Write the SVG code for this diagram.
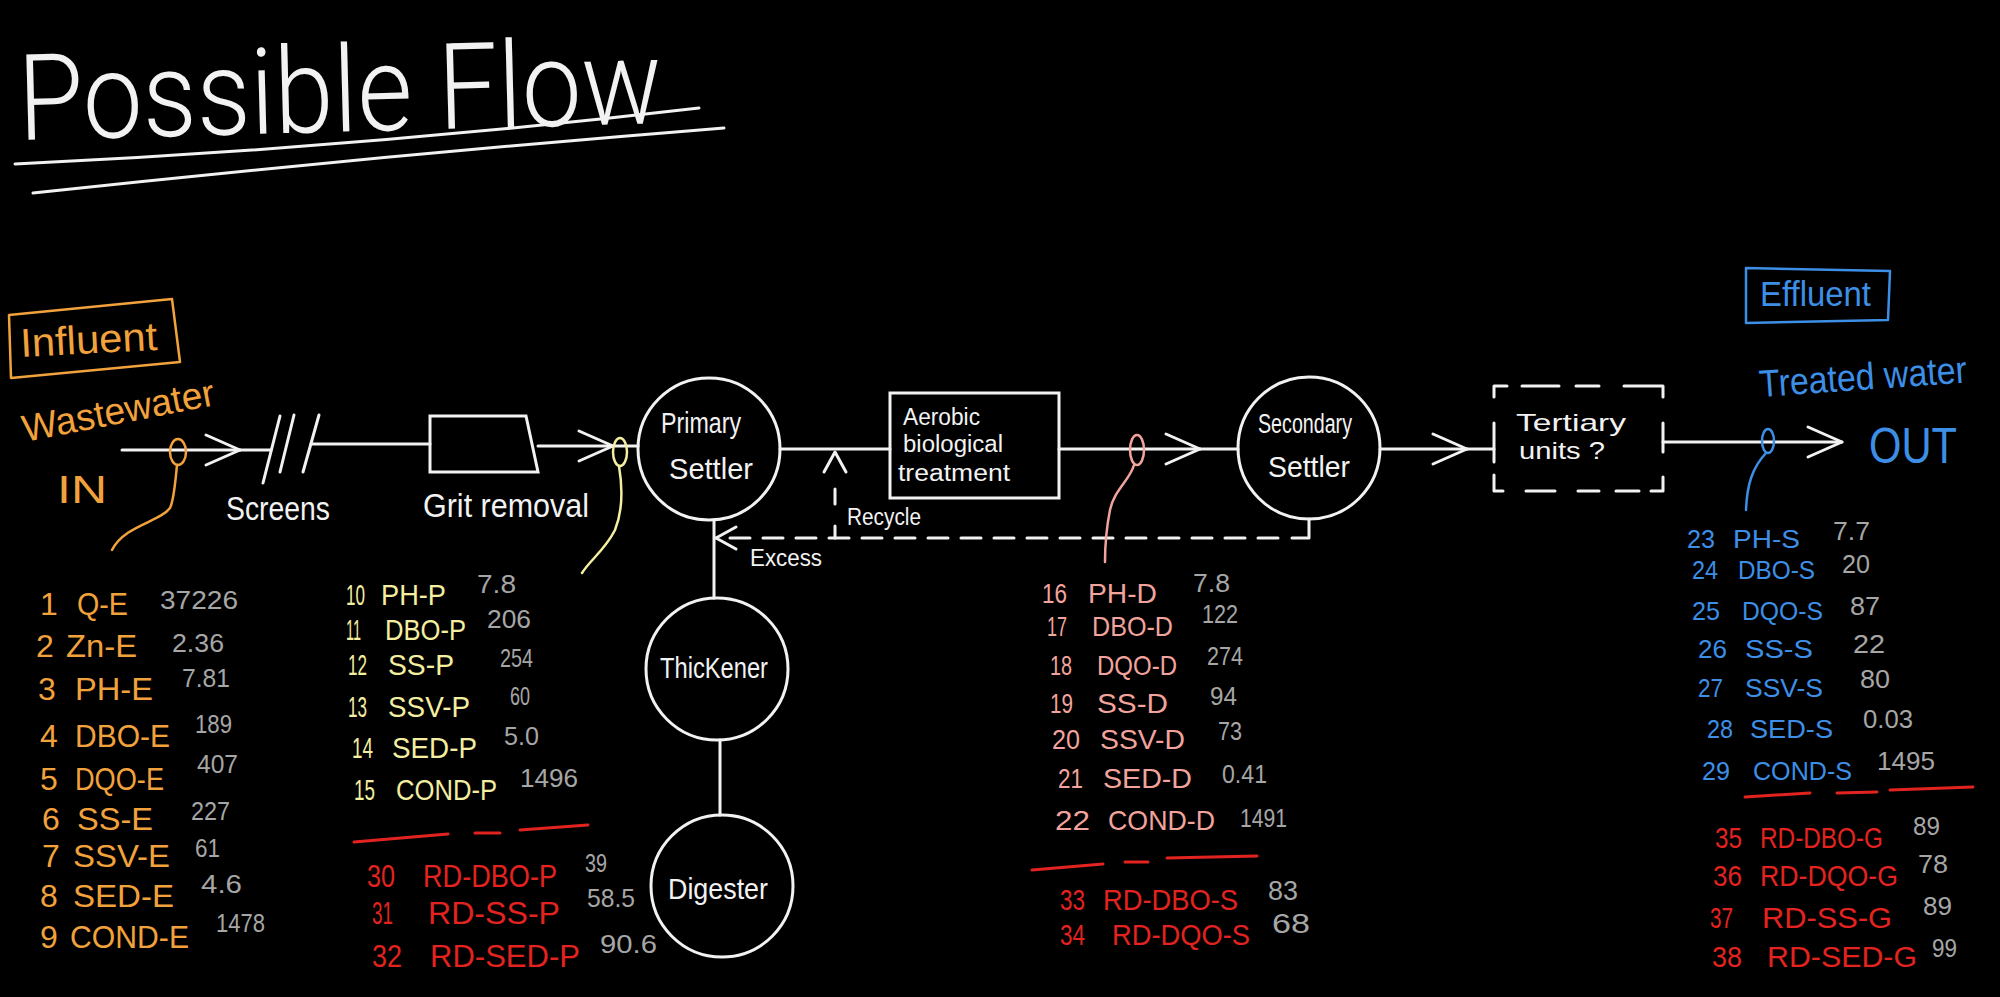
<svg xmlns="http://www.w3.org/2000/svg" width="2000" height="997" viewBox="0 0 2000 997">
<style>
text{font-family:"Liberation Sans",Arial,sans-serif}
.w{fill:#f2f2f2}.or{fill:#f2a23c}.ye{fill:#f3eea0}.pk{fill:#f2a49c}.rd{fill:#e2231f}.bl{fill:#3d8fe6}.gy{fill:#a6a6a6}
.ln{stroke:#f2f2f2;stroke-width:3;fill:none;stroke-linecap:round;stroke-linejoin:round}
.dash{stroke-dasharray:20 13}
.node{stroke:#f2f2f2;stroke-width:3;fill:none}
.s25{font-size:25px}.s26{font-size:26px}.s28{font-size:28px}.s30{font-size:30px}.s31{font-size:31px}.s32{font-size:32px}
.ul{stroke:#e2231f;stroke-width:3;fill:none;stroke-linecap:round}
</style>
<defs>
<marker id="arrowBig" markerUnits="userSpaceOnUse" markerWidth="44" markerHeight="44" refX="38" refY="22" orient="auto" overflow="visible">
<path d="M4,7 L38,22 L4,37" fill="none" stroke="#f2f2f2" stroke-width="3" stroke-linecap="round" stroke-linejoin="round"/>
</marker>
<marker id="arrowSmall" markerUnits="userSpaceOnUse" markerWidth="30" markerHeight="30" refX="24" refY="15" orient="auto" overflow="visible">
<path d="M4,4 L24,15 L4,26" fill="none" stroke="#f2f2f2" stroke-width="3" stroke-linecap="round" stroke-linejoin="round"/>
</marker>
</defs>
<rect x="0" y="0" width="2000" height="997" fill="#000"/>

<g id="title">
<g transform="translate(19,140) rotate(-1.5) scale(1,1.2)">
<text class="w" x="0" y="0" font-size="100" font-weight="300" textLength="644" lengthAdjust="spacingAndGlyphs" style="font-family:Roboto,'Liberation Sans',Arial,sans-serif">Possible Flow</text>
</g>
<path class="ln" stroke-width="4" d="M15,164 Q357,148 699,108"/>
<path class="ln" stroke-width="4" d="M33,193 Q376,156 724,128"/>
</g>

<g id="influent">
<path d="M9,315 L172,299 L180,362 L11,378 Z" fill="none" stroke="#f2a23c" stroke-width="2.5" stroke-linejoin="round"/>
<text class="or" x="21" y="357" font-size="40" textLength="137" lengthAdjust="spacingAndGlyphs" transform="rotate(-3 21 357)">Influent</text>
</g>

<g id="wastewater-in">
<text class="or" x="25" y="442" font-size="38" textLength="195" lengthAdjust="spacingAndGlyphs" transform="rotate(-11 25 442)">Wastewater</text>
<text class="or" x="57" y="503" font-size="38" textLength="50" lengthAdjust="spacingAndGlyphs">IN</text>
</g>

<g id="screens">
<path class="ln" d="M280,416 L263,483 M294,415 L280,472 M319,415 L303,472"/>
<text class="w" x="226" y="520" font-size="34" textLength="104" lengthAdjust="spacingAndGlyphs">Screens</text>
</g>

<g id="grit-removal">
<path class="node" d="M430,416 L526,416 L538,472 L430,472 Z"/>
<text class="w" x="423" y="517" font-size="34" textLength="166" lengthAdjust="spacingAndGlyphs">Grit removal</text>
</g>

<g id="primary-settler">
<circle class="node" cx="709" cy="449" r="71"/>
<text class="w" x="661" y="433" font-size="30" textLength="80" lengthAdjust="spacingAndGlyphs">Primary</text>
<text class="w" x="669" y="479" font-size="30" textLength="84" lengthAdjust="spacingAndGlyphs">Settler</text>
</g>

<g id="aerobic-treatment">
<rect class="node" x="890" y="393" width="169" height="105"/>
<text class="w" x="903" y="425" font-size="23" textLength="77" lengthAdjust="spacingAndGlyphs">Aerobic</text>
<text class="w" x="903" y="452" font-size="23" textLength="100" lengthAdjust="spacingAndGlyphs">biological</text>
<text class="w" x="898" y="481" font-size="23" textLength="112" lengthAdjust="spacingAndGlyphs">treatment</text>
</g>

<g id="secondary-settler">
<circle class="node" cx="1309" cy="448" r="71"/>
<text class="w" x="1258" y="433" font-size="27" textLength="94" lengthAdjust="spacingAndGlyphs">Secondary</text>
<text class="w" x="1268" y="477" font-size="29" textLength="82" lengthAdjust="spacingAndGlyphs">Settler</text>
</g>

<g id="tertiary-units">
<path class="ln" d="M1494,397 V386 H1507 M1522,386 H1559 M1576,386 H1599 M1624,386 H1663 V397 M1494,423 V462 M1494,475 V491 H1503 M1526,491 H1555 M1578,491 H1599 M1616,491 H1639 M1651,491 H1663 V477 M1663,423 V452"/>
<text class="w" x="1516" y="431" font-size="24" textLength="110" lengthAdjust="spacingAndGlyphs">Tertiary</text>
<text class="w" x="1519" y="459" font-size="24" textLength="86" lengthAdjust="spacingAndGlyphs">units ?</text>
</g>

<g id="thickener">
<circle class="node" cx="717" cy="669" r="71"/>
<text class="w" x="660" y="678" font-size="29" textLength="108" lengthAdjust="spacingAndGlyphs">ThicKener</text>
</g>

<g id="digester">
<circle class="node" cx="722" cy="886" r="71"/>
<text class="w" x="668" y="899" font-size="30" textLength="100" lengthAdjust="spacingAndGlyphs">Digester</text>
</g>

<g id="effluent">
<path d="M1746,268 L1890,271 L1888,320 L1746,323 Z" fill="none" stroke="#3d8fe6" stroke-width="2.5" stroke-linejoin="round"/>
<text class="bl" x="1760" y="306" font-size="35" textLength="111" lengthAdjust="spacingAndGlyphs">Effluent</text>
</g>

<g id="treated-water-out">
<text class="bl" x="1760" y="397" font-size="38" textLength="208" lengthAdjust="spacingAndGlyphs" transform="rotate(-4 1760 397)">Treated water</text>
<text class="bl" x="1869" y="463" font-size="50" textLength="88" lengthAdjust="spacingAndGlyphs">OUT</text>
</g>

<g id="connectors">
<path class="ln" d="M122,450 H240" marker-end="url(#arrowBig)"/>
<path class="ln" d="M240,450 H271"/>
<path class="ln" d="M311,444 H430"/>
<path class="ln" d="M538,446 H613" marker-end="url(#arrowBig)"/>
<path class="ln" d="M613,446 H638"/>
<path class="ln" d="M780,449 H890"/>
<path class="ln" d="M1059,449 H1200" marker-end="url(#arrowBig)"/>
<path class="ln" d="M1200,449 H1238"/>
<path class="ln" d="M1380,449 H1467" marker-end="url(#arrowBig)"/>
<path class="ln" d="M1467,449 H1494"/>
<path class="ln" d="M1663,442 H1842" marker-end="url(#arrowBig)"/>
<path class="ln" d="M1309,519 V538 H1292"/>
<path class="ln dash" d="M1278,538 H716" marker-end="url(#arrowSmall)"/>
<path class="ln" d="M835,538 V452" stroke-dasharray="12 22 15 50" marker-end="url(#arrowSmall)"/>
<text class="w" x="847" y="525" font-size="23" textLength="74" lengthAdjust="spacingAndGlyphs">Recycle</text>
<text class="w" x="750" y="566" font-size="24" textLength="72" lengthAdjust="spacingAndGlyphs">Excess</text>
<path class="ln" d="M714,520 V598"/>
<path class="ln" d="M720,740 V815"/>
</g>

<g id="sample-points">
<ellipse cx="178" cy="452" rx="8" ry="13" fill="none" stroke="#f2a23c" stroke-width="2.5"/>
<path d="M177,465 C175,485 174,500 170,508 C160,522 125,525 112,550" fill="none" stroke="#f2a23c" stroke-width="2.5" stroke-linecap="round"/>
<ellipse cx="620" cy="452" rx="7" ry="14" fill="none" stroke="#f3eea0" stroke-width="2.5"/>
<path d="M619,466 C623,490 623,510 615,530 C605,550 590,560 582,573" fill="none" stroke="#f3eea0" stroke-width="2.5" stroke-linecap="round"/>
<ellipse cx="1137" cy="450" rx="7" ry="15" fill="none" stroke="#f2a49c" stroke-width="2.5"/>
<path d="M1134,465 C1130,480 1114,490 1110,510 C1106,530 1105,548 1105,562" fill="none" stroke="#f2a49c" stroke-width="2.5" stroke-linecap="round"/>
<ellipse cx="1768" cy="441" rx="6" ry="12" fill="none" stroke="#3d8fe6" stroke-width="2.5"/>
<path d="M1766,453 C1752,468 1747,485 1746,510" fill="none" stroke="#3d8fe6" stroke-width="2.5" stroke-linecap="round"/>
</g>

<g id="influent-list">
<text class="or s32" x="40" y="615">1</text><text class="or s32" x="77" y="615" textLength="51" lengthAdjust="spacingAndGlyphs">Q-E</text><text class="gy s26" x="160" y="609" textLength="78" lengthAdjust="spacingAndGlyphs">37226</text>
<text class="or s32" x="36" y="657">2</text><text class="or s32" x="66" y="657" textLength="71" lengthAdjust="spacingAndGlyphs">Zn-E</text><text class="gy s26" x="172" y="652" textLength="52" lengthAdjust="spacingAndGlyphs">2.36</text>
<text class="or s32" x="38" y="700">3</text><text class="or s32" x="75" y="700" textLength="78" lengthAdjust="spacingAndGlyphs">PH-E</text><text class="gy s26" x="182" y="687" textLength="48" lengthAdjust="spacingAndGlyphs">7.81</text>
<text class="or s32" x="40" y="747">4</text><text class="or s32" x="75" y="747" textLength="95" lengthAdjust="spacingAndGlyphs">DBO-E</text><text class="gy s26" x="195" y="733" textLength="37" lengthAdjust="spacingAndGlyphs">189</text>
<text class="or s32" x="40" y="790">5</text><text class="or s32" x="75" y="790" textLength="89" lengthAdjust="spacingAndGlyphs">DQO-E</text><text class="gy s26" x="197" y="773" textLength="41" lengthAdjust="spacingAndGlyphs">407</text>
<text class="or s32" x="42" y="830">6</text><text class="or s32" x="77" y="830" textLength="76" lengthAdjust="spacingAndGlyphs">SS-E</text><text class="gy s26" x="191" y="820" textLength="39" lengthAdjust="spacingAndGlyphs">227</text>
<text class="or s32" x="42" y="867">7</text><text class="or s32" x="73" y="867" textLength="97" lengthAdjust="spacingAndGlyphs">SSV-E</text><text class="gy s26" x="195" y="857" textLength="25" lengthAdjust="spacingAndGlyphs">61</text>
<text class="or s32" x="40" y="907">8</text><text class="or s32" x="73" y="907" textLength="101" lengthAdjust="spacingAndGlyphs">SED-E</text><text class="gy s26" x="201" y="893" textLength="41" lengthAdjust="spacingAndGlyphs">4.6</text>
<text class="or s32" x="40" y="948">9</text><text class="or s32" x="70" y="948" textLength="119" lengthAdjust="spacingAndGlyphs">COND-E</text><text class="gy s26" x="216" y="932" textLength="49" lengthAdjust="spacingAndGlyphs">1478</text>
</g>

<g id="primary-list">
<text class="ye s30" x="346" y="605" textLength="19" lengthAdjust="spacingAndGlyphs">10</text><text class="ye s30" x="381" y="605" textLength="65" lengthAdjust="spacingAndGlyphs">PH-P</text><text class="gy s26" x="477" y="593" textLength="39" lengthAdjust="spacingAndGlyphs">7.8</text>
<text class="ye s30" x="346" y="640" textLength="15" lengthAdjust="spacingAndGlyphs">11</text><text class="ye s30" x="385" y="640" textLength="81" lengthAdjust="spacingAndGlyphs">DBO-P</text><text class="gy s26" x="487" y="628" textLength="44" lengthAdjust="spacingAndGlyphs">206</text>
<text class="ye s30" x="348" y="675" textLength="19" lengthAdjust="spacingAndGlyphs">12</text><text class="ye s30" x="388" y="675" textLength="66" lengthAdjust="spacingAndGlyphs">SS-P</text><text class="gy s26" x="500" y="667" textLength="33" lengthAdjust="spacingAndGlyphs">254</text>
<text class="ye s30" x="348" y="717" textLength="19" lengthAdjust="spacingAndGlyphs">13</text><text class="ye s30" x="388" y="717" textLength="82" lengthAdjust="spacingAndGlyphs">SSV-P</text><text class="gy s26" x="510" y="705" textLength="20" lengthAdjust="spacingAndGlyphs">60</text>
<text class="ye s30" x="352" y="758" textLength="21" lengthAdjust="spacingAndGlyphs">14</text><text class="ye s30" x="392" y="758" textLength="85" lengthAdjust="spacingAndGlyphs">SED-P</text><text class="gy s26" x="504" y="745" textLength="35" lengthAdjust="spacingAndGlyphs">5.0</text>
<text class="ye s30" x="354" y="800" textLength="21" lengthAdjust="spacingAndGlyphs">15</text><text class="ye s30" x="396" y="800" textLength="101" lengthAdjust="spacingAndGlyphs">COND-P</text><text class="gy s26" x="520" y="787" textLength="58" lengthAdjust="spacingAndGlyphs">1496</text>
<path class="ul" d="M354,842 L448,834 M475,833 L500,833 M520,830 L588,825"/>
<text class="rd s32" x="367" y="887" textLength="28" lengthAdjust="spacingAndGlyphs">30</text><text class="rd s32" x="423" y="887" textLength="134" lengthAdjust="spacingAndGlyphs">RD-DBO-P</text><text class="gy s26" x="585" y="872" textLength="22" lengthAdjust="spacingAndGlyphs">39</text>
<text class="rd s32" x="372" y="924" textLength="21" lengthAdjust="spacingAndGlyphs">31</text><text class="rd s32" x="428" y="924" textLength="132" lengthAdjust="spacingAndGlyphs">RD-SS-P</text><text class="gy s26" x="587" y="907" textLength="48" lengthAdjust="spacingAndGlyphs">58.5</text>
<text class="rd s32" x="372" y="967" textLength="30" lengthAdjust="spacingAndGlyphs">32</text><text class="rd s32" x="430" y="967" textLength="150" lengthAdjust="spacingAndGlyphs">RD-SED-P</text><text class="gy s26" x="600" y="953" textLength="57" lengthAdjust="spacingAndGlyphs">90.6</text>
</g>

<g id="secondary-list">
<text class="pk s28" x="1042" y="603" textLength="25" lengthAdjust="spacingAndGlyphs">16</text><text class="pk s28" x="1088" y="603" textLength="69" lengthAdjust="spacingAndGlyphs">PH-D</text><text class="gy s26" x="1193" y="592" textLength="37" lengthAdjust="spacingAndGlyphs">7.8</text>
<text class="pk s28" x="1047" y="636" textLength="20" lengthAdjust="spacingAndGlyphs">17</text><text class="pk s28" x="1092" y="636" textLength="81" lengthAdjust="spacingAndGlyphs">DBO-D</text><text class="gy s26" x="1202" y="623" textLength="36" lengthAdjust="spacingAndGlyphs">122</text>
<text class="pk s28" x="1050" y="675" textLength="22" lengthAdjust="spacingAndGlyphs">18</text><text class="pk s28" x="1097" y="675" textLength="80" lengthAdjust="spacingAndGlyphs">DQO-D</text><text class="gy s26" x="1207" y="665" textLength="36" lengthAdjust="spacingAndGlyphs">274</text>
<text class="pk s28" x="1050" y="713" textLength="23" lengthAdjust="spacingAndGlyphs">19</text><text class="pk s28" x="1097" y="713" textLength="71" lengthAdjust="spacingAndGlyphs">SS-D</text><text class="gy s26" x="1210" y="705" textLength="27" lengthAdjust="spacingAndGlyphs">94</text>
<text class="pk s28" x="1052" y="749" textLength="28" lengthAdjust="spacingAndGlyphs">20</text><text class="pk s28" x="1100" y="749" textLength="85" lengthAdjust="spacingAndGlyphs">SSV-D</text><text class="gy s26" x="1218" y="740" textLength="24" lengthAdjust="spacingAndGlyphs">73</text>
<text class="pk s28" x="1058" y="788" textLength="25" lengthAdjust="spacingAndGlyphs">21</text><text class="pk s28" x="1103" y="788" textLength="89" lengthAdjust="spacingAndGlyphs">SED-D</text><text class="gy s26" x="1222" y="783" textLength="45" lengthAdjust="spacingAndGlyphs">0.41</text>
<text class="pk s28" x="1055" y="830" textLength="35" lengthAdjust="spacingAndGlyphs">22</text><text class="pk s28" x="1108" y="830" textLength="107" lengthAdjust="spacingAndGlyphs">COND-D</text><text class="gy s26" x="1240" y="827" textLength="47" lengthAdjust="spacingAndGlyphs">1491</text>
<path class="ul" d="M1032,870 L1103,864 M1125,862 L1148,862 M1167,858 L1257,856"/>
<text class="rd s30" x="1060" y="910" textLength="25" lengthAdjust="spacingAndGlyphs">33</text><text class="rd s30" x="1103" y="910" textLength="135" lengthAdjust="spacingAndGlyphs">RD-DBO-S</text><text class="gy s28" x="1268" y="900" textLength="30" lengthAdjust="spacingAndGlyphs">83</text>
<text class="rd s30" x="1060" y="945" textLength="25" lengthAdjust="spacingAndGlyphs">34</text><text class="rd s30" x="1112" y="945" textLength="138" lengthAdjust="spacingAndGlyphs">RD-DQO-S</text><text class="gy s28" x="1272" y="933" textLength="38" lengthAdjust="spacingAndGlyphs">68</text>
</g>

<g id="effluent-list">
<text class="bl s26" x="1687" y="548" textLength="28" lengthAdjust="spacingAndGlyphs">23</text><text class="bl s26" x="1733" y="548" textLength="67" lengthAdjust="spacingAndGlyphs">PH-S</text><text class="gy s26" x="1833" y="540" textLength="37" lengthAdjust="spacingAndGlyphs">7.7</text>
<text class="bl s26" x="1692" y="579" textLength="26" lengthAdjust="spacingAndGlyphs">24</text><text class="bl s26" x="1738" y="579" textLength="77" lengthAdjust="spacingAndGlyphs">DBO-S</text><text class="gy s26" x="1842" y="573" textLength="28" lengthAdjust="spacingAndGlyphs">20</text>
<text class="bl s26" x="1692" y="620" textLength="28" lengthAdjust="spacingAndGlyphs">25</text><text class="bl s26" x="1742" y="620" textLength="81" lengthAdjust="spacingAndGlyphs">DQO-S</text><text class="gy s26" x="1850" y="615" textLength="30" lengthAdjust="spacingAndGlyphs">87</text>
<text class="bl s26" x="1698" y="658" textLength="29" lengthAdjust="spacingAndGlyphs">26</text><text class="bl s26" x="1745" y="658" textLength="68" lengthAdjust="spacingAndGlyphs">SS-S</text><text class="gy s26" x="1853" y="653" textLength="32" lengthAdjust="spacingAndGlyphs">22</text>
<text class="bl s26" x="1698" y="697" textLength="25" lengthAdjust="spacingAndGlyphs">27</text><text class="bl s26" x="1745" y="697" textLength="78" lengthAdjust="spacingAndGlyphs">SSV-S</text><text class="gy s26" x="1860" y="688" textLength="30" lengthAdjust="spacingAndGlyphs">80</text>
<text class="bl s26" x="1707" y="738" textLength="26" lengthAdjust="spacingAndGlyphs">28</text><text class="bl s26" x="1750" y="738" textLength="83" lengthAdjust="spacingAndGlyphs">SED-S</text><text class="gy s26" x="1863" y="728" textLength="50" lengthAdjust="spacingAndGlyphs">0.03</text>
<text class="bl s26" x="1702" y="780" textLength="28" lengthAdjust="spacingAndGlyphs">29</text><text class="bl s26" x="1753" y="780" textLength="99" lengthAdjust="spacingAndGlyphs">COND-S</text><text class="gy s26" x="1877" y="770" textLength="58" lengthAdjust="spacingAndGlyphs">1495</text>
<path class="ul" d="M1745,797 L1810,793 M1837,793 L1877,792 M1890,790 L1973,787"/>
<text class="rd s30" x="1715" y="848" textLength="27" lengthAdjust="spacingAndGlyphs">35</text><text class="rd s30" x="1760" y="848" textLength="123" lengthAdjust="spacingAndGlyphs">RD-DBO-G</text><text class="gy s25" x="1913" y="835" textLength="27" lengthAdjust="spacingAndGlyphs">89</text>
<text class="rd s30" x="1713" y="886" textLength="29" lengthAdjust="spacingAndGlyphs">36</text><text class="rd s30" x="1760" y="886" textLength="138" lengthAdjust="spacingAndGlyphs">RD-DQO-G</text><text class="gy s25" x="1918" y="873" textLength="30" lengthAdjust="spacingAndGlyphs">78</text>
<text class="rd s30" x="1710" y="928" textLength="23" lengthAdjust="spacingAndGlyphs">37</text><text class="rd s30" x="1762" y="928" textLength="130" lengthAdjust="spacingAndGlyphs">RD-SS-G</text><text class="gy s25" x="1923" y="915" textLength="29" lengthAdjust="spacingAndGlyphs">89</text>
<text class="rd s30" x="1712" y="967" textLength="30" lengthAdjust="spacingAndGlyphs">38</text><text class="rd s30" x="1767" y="967" textLength="150" lengthAdjust="spacingAndGlyphs">RD-SED-G</text><text class="gy s25" x="1932" y="957" textLength="25" lengthAdjust="spacingAndGlyphs">99</text>
</g>
</svg>
